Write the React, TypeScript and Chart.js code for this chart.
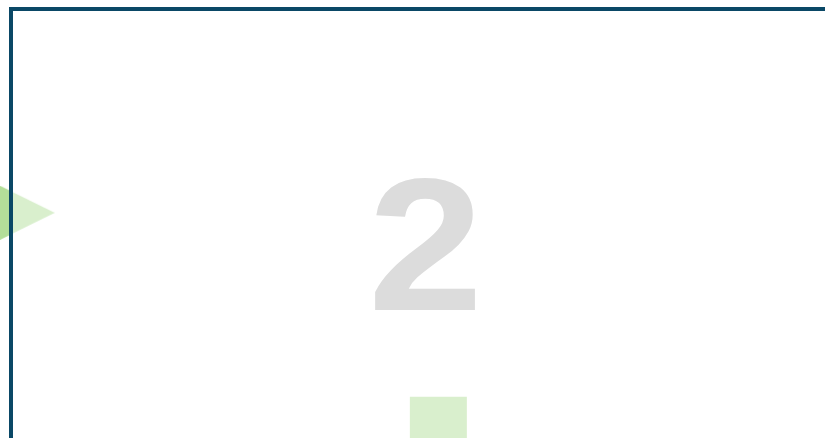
import React, { useEffect, useRef } from 'react';
import { Chart, registerables } from 'chart.js';

Chart.register(...registerables);

// ---- data ----
const BIG_LABEL = '2';
const TRIANGLE_POINTS = [{ x: 2, y: 52.5 }];
const SQUARE_POINTS = [{ x: 52.5, y: 3 }];
const X_MIN = 0;
const X_MAX = 100;
const Y_MIN = 0;
const Y_MAX = 100;

// ---- styles ----
const BORDER_COLOR = '#0a4866';
const LIGHT_GREEN = '#d9efcd';
const DARK_GREEN = '#b3de99';
const LABEL_COLOR = '#dcdcdc';

function makeTriangle(color: string): HTMLCanvasElement {
  const c = document.createElement('canvas');
  c.width = 55;
  c.height = 54;
  const ctx = c.getContext('2d')!;
  ctx.fillStyle = color;
  ctx.beginPath();
  ctx.moveTo(0, 0);
  ctx.lineTo(55, 27);
  ctx.lineTo(0, 54);
  ctx.closePath();
  ctx.fill();
  return c;
}

export default function App() {
  const ref = useRef<HTMLCanvasElement | null>(null);

  useEffect(() => {
    if (!ref.current) return;
    const lightTri = makeTriangle(LIGHT_GREEN);
    const darkTri = makeTriangle(DARK_GREEN);

    const framePlugin = {
      id: 'frame',
      beforeDatasetsDraw(chart: any) {
        const { ctx, chartArea } = chart;
        ctx.save();
        ctx.fillStyle = LABEL_COLOR;
        ctx.font = 'bold 190px "Liberation Sans", Arial, sans-serif';
        ctx.textAlign = 'center';
        ctx.textBaseline = 'alphabetic';
        const cx = chartArea.left + 414.5;
        ctx.translate(cx, chartArea.top + 301);
        ctx.scale(1.09, 1);
        ctx.fillText(BIG_LABEL, 0, 0);
        ctx.restore();
      },
      afterDatasetsDraw(chart: any) {
        const { ctx, chartArea, width, height } = chart;
        ctx.save();
        ctx.fillStyle = BORDER_COLOR;
        ctx.fillRect(chartArea.left - 2, chartArea.top - 2, width - (chartArea.left - 2), 4);
        ctx.fillRect(chartArea.left - 2, chartArea.top - 2, 4, height - (chartArea.top - 2));
        ctx.restore();
      },
    };

    const chart = new Chart(ref.current, {
      type: 'scatter',
      data: {
        datasets: [
          {
            label: 'outside',
            data: TRIANGLE_POINTS.map((p) => ({ x: p.x, y: p.y })),
            pointStyle: darkTri as any,
            pointRadius: 28,
            clip: { left: 20, right: 9 - 825, top: 500, bottom: 500 } as any,
            order: 0,
          },
          {
            label: 'triangle',
            data: TRIANGLE_POINTS,
            pointStyle: lightTri as any,
            pointRadius: 28,
            clip: false as any,
            order: 1,
          },
          {
            label: 'square',
            data: SQUARE_POINTS,
            pointStyle: 'rect',
            pointRadius: 40.3,
            backgroundColor: LIGHT_GREEN,
            borderWidth: 0,
            clip: false as any,
            order: 2,
          },
        ],
      },
      options: {
        animation: false,
        responsive: false,
        layout: { autoPadding: false, padding: { left: 11, top: 9, right: 0, bottom: 0 } },
        scales: {
          x: { type: 'linear', display: false, min: X_MIN, max: X_MAX },
          y: { type: 'linear', display: false, min: Y_MIN, max: Y_MAX },
        },
        plugins: { legend: { display: false }, tooltip: { enabled: false } },
        events: [],
      },
      plugins: [framePlugin],
    });
    return () => chart.destroy();
  }, []);

  return (
    <div style={{ position: 'fixed', left: 0, top: 0, width: 825, height: 438, background: '#ffffff' }}>
      <canvas ref={ref} width={825} height={438} style={{ display: 'block', width: 825, height: 438 }} />
    </div>
  );
}
